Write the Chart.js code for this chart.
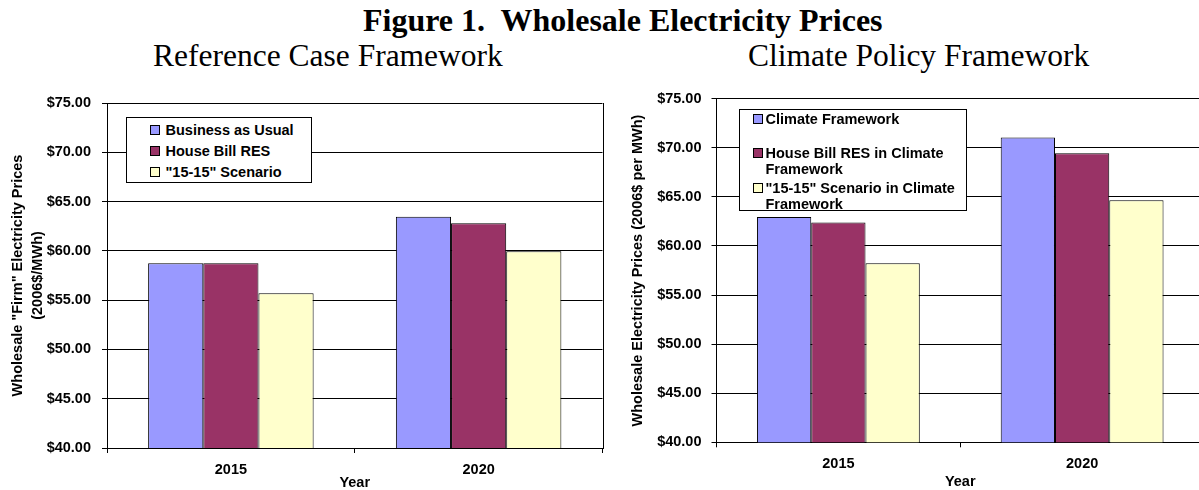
<!DOCTYPE html>
<html>
<head>
<meta charset="utf-8">
<script src="https://cdn.jsdelivr.net/npm/chart.js@4.4.1/dist/chart.umd.min.js"></script>
<style>
  html, body { margin:0; padding:0; width:1199px; height:490px; overflow:hidden; background:#fff; }
  .t { position:absolute; white-space:pre; font-family:"Liberation Serif","Times New Roman",serif; color:#000; line-height:1; }
  canvas { position:absolute; }
  .leg { position:absolute; background:#fff; border:1px solid #000; box-sizing:border-box;
         font:bold 14.5px "Liberation Sans", Arial, sans-serif; color:#000; }
  .sw { position:absolute; width:10px; height:10px; border:1px solid #000; box-sizing:border-box; }
  .lt { position:absolute; line-height:16px; white-space:normal; }
</style>
</head>
<body>
<div class="t" id="mainTitle" style="left:363px; top:4px; font-size:32px; font-weight:bold;"></div>
<div class="t" id="sub1" style="left:153px; top:40px; font-size:31.5px;"></div>
<div class="t" id="sub2" style="left:748px; top:40px; font-size:31.5px;"></div>
<canvas id="c1" width="605" height="420" style="left:0px; top:80px;"></canvas>
<canvas id="c2" width="610" height="420" style="left:600px; top:80px;"></canvas>
<div class="leg" id="leg1" style="left:126px; top:117px; width:186px; height:66px;"></div>
<div class="leg" id="leg2" style="left:739px; top:109px; width:228px; height:102px;"></div>
<script>
// ---- data ----
const mainTitle = 'Figure 1.  Wholesale Electricity Prices';
const subTitles = ['Reference Case Framework', 'Climate Policy Framework'];
const categories = ['2015', '2020'];

const refSeriesLabels = ['Business as Usual', 'House Bill RES', '"15-15" Scenario'];
const refBusinessAsUsual = [58.75, 63.45];
const refHouseBillRES   = [58.75, 62.80];
const refScenario1515   = [55.70, 59.95];

const climSeriesLabels = ['Climate Framework', 'House Bill RES in Climate Framework', '"15-15" Scenario in Climate Framework'];
const climFramework      = [62.95, 71.05];
const climHouseBillRES   = [62.40, 69.45];
const climScenario1515   = [58.25, 64.65];

const yMin = 40, yMax = 75, yStep = 5;
const refYTitle = ['Wholesale "Firm" Electricity Prices', '(2006$/MWh)'];
const climYTitle = 'Wholesale Electricity Prices (2006$ per MWh)';
const xTitle = 'Year';

// ---- style ----
const seriesColors = ['#9999FF', '#993366', '#FFFFCC'];
const FONT = 'Liberation Sans, Arial, sans-serif';

document.getElementById('mainTitle').textContent = mainTitle;
document.getElementById('sub1').textContent = subTitles[0];
document.getElementById('sub2').textContent = subTitles[1];

const framePlugin = {
  id: 'frame',
  afterDraw(chart) {
    const { ctx, chartArea: a } = chart;
    ctx.save();
    ctx.strokeStyle = '#000';
    ctx.lineWidth = 1;
    const x = Math.round(a.right) + 0.5;
    ctx.beginPath();
    ctx.moveTo(x, Math.round(a.top));
    ctx.lineTo(x, Math.round(a.bottom) + 1);
    ctx.stroke();
    ctx.restore();
  }
};

function makeChart(id, labels, series, yTitle, o) {
  const datasets = series.map((d, i) => ({
    label: labels[i],
    data: d,
    backgroundColor: seriesColors[i],
    borderColor: '#000',
    borderWidth: 1,
    borderSkipped: false,
    categoryPercentage: 0.668,
    barPercentage: 1.0
  }));
  return new Chart(document.getElementById(id), {
    type: 'bar',
    data: { labels: categories, datasets },
    options: {
      responsive: false,
      animation: false,
      devicePixelRatio: 1,
      layout: { padding: { top: o.padTop, right: o.padRight, left: 0, bottom: 0 } },
      plugins: { legend: { display: false }, tooltip: { enabled: false }, title: { display: false } },
      scales: {
        x: {
          ticks: { color: '#000', font: { family: FONT, size: 14.5, weight: 'bold' }, padding: o.xTickPad },
          grid: { display: true, drawOnChartArea: false, drawTicks: true, tickLength: 5, color: '#000', offset: true },
          border: { display: true, color: '#000', width: 1 },
          title: { display: true, text: xTitle, color: '#000',
                   font: { family: FONT, size: 14.5, weight: 'bold', lineHeight: 1.2 },
                   padding: { top: 0, bottom: o.xTitlePad } },
          afterFit: s => { s.height = o.xHeight; }
        },
        y: {
          min: yMin, max: yMax,
          ticks: { stepSize: yStep, color: '#000', font: { family: FONT, size: 14.5, weight: 'bold' },
                   padding: o.yTickPad, callback: v => '$' + Number(v).toFixed(2) },
          grid: { color: '#000', lineWidth: 1, tickLength: 5, drawTicks: true },
          border: { display: true, color: '#000', width: 1 },
          title: { display: true, text: yTitle, color: '#000',
                   font: { family: FONT, size: 14.5, weight: 'bold', lineHeight: o.yTitleLH },
                   padding: { top: o.yTitlePad, bottom: 0 } },
          afterFit: s => { s.width = o.yWidth; }
        }
      }
    },
    plugins: [framePlugin]
  });
}

makeChart('c1', refSeriesLabels, [refBusinessAsUsual, refHouseBillRES, refScenario1515], refYTitle,
  { padTop: 23, padRight: 2.5, xHeight: 52, yWidth: 107, xTickPad: 8, xTitlePad: 8, yTickPad: 11, yTitleLH: 1.38, yTitlePad: 8.4 });
makeChart('c2', climSeriesLabels, [climFramework, climHouseBillRES, climScenario1515], climYTitle,
  { padTop: 17, padRight: 6, xHeight: 57.7, yWidth: 116.5, xTickPad: 8.3, xTitlePad: 9, yTickPad: 10, yTitleLH: 1.2, yTitlePad: 29.3 });

// ---- legends (built from the series labels/colours) ----
function buildLegend(id, labels, layout) {
  const box = document.getElementById(id);
  labels.forEach((lab, i) => {
    const c = layout.firstCenter + i * layout.rowStep;
    const sw = document.createElement('div');
    sw.className = 'sw';
    sw.style.left = layout.swLeft + 'px';
    sw.style.top = (c - 5) + 'px';
    sw.style.background = seriesColors[i];
    box.appendChild(sw);
    const tx = document.createElement('div');
    tx.className = 'lt';
    tx.style.left = layout.txLeft + 'px';
    tx.style.top = (c - 8) + 'px';
    tx.style.width = layout.txWidth + 'px';
    tx.textContent = lab;
    box.appendChild(tx);
  });
}
buildLegend('leg1', refSeriesLabels, { firstCenter: 11.5, rowStep: 21.4, swLeft: 22.5, txLeft: 38.5, txWidth: 145 });
buildLegend('leg2', climSeriesLabels, { firstCenter: 9.2, rowStep: 34.2, swLeft: 12.7, txLeft: 25.5, txWidth: 196 });
</script>
</body>
</html>
